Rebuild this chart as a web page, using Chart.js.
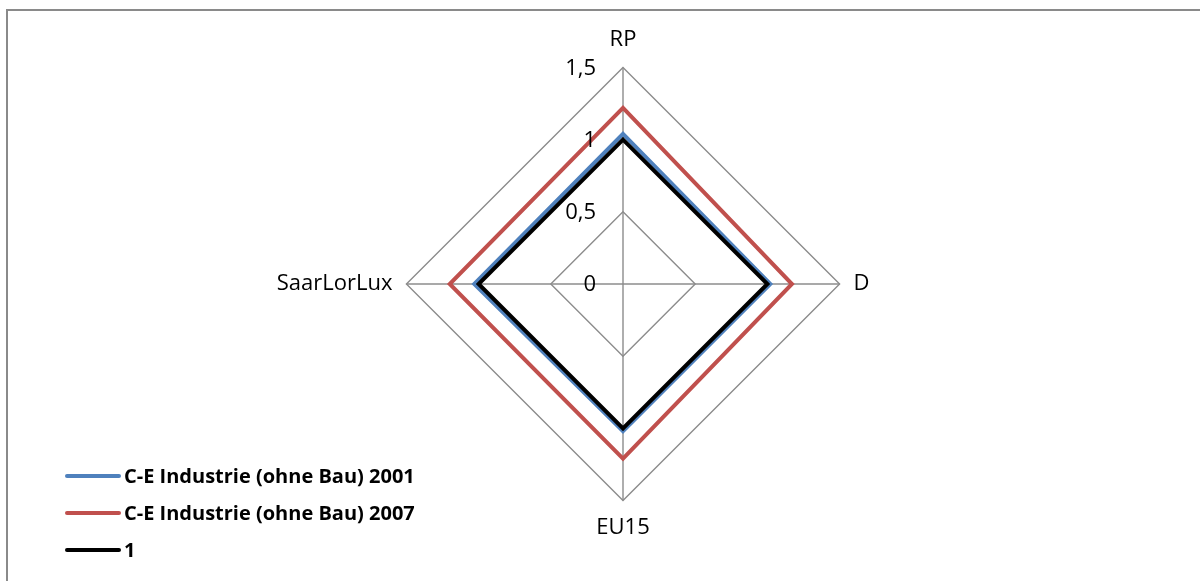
<!DOCTYPE html>
<html>
<head>
<meta charset="utf-8">
<script src="https://cdn.jsdelivr.net/npm/chart.js@4/dist/chart.umd.min.js"></script>
<style>
  html, body { margin: 0; padding: 0; background: #fff; }
  #wrap { position: relative; width: 1200px; height: 581px; }
</style>
</head>
<body>
<div id="wrap"><canvas id="chart"></canvas></div>
<script>
const AXES = ['RP', 'D', 'EU15', 'SaarLorLux'];
const VALUES_2001 = [1.04, 1.02, 1.02, 1.03];
const VALUES_2007 = [1.22, 1.17, 1.21, 1.20];
const VALUES_ONE = [1, 1, 1, 1];
const TICK_VALUES = [0, 0.5, 1, 1.5];
const TICK_LABELS = ['0', '0,5', '1', '1,5'];
const SERIES_NAMES = ['C-E Industrie (ohne Bau) 2001', 'C-E Industrie (ohne Bau) 2007', '1'];

const FONT = '"Open Sans", "DejaVu Sans", sans-serif';
const GRID = '#8c8c8c';

// outer frame, only left and top edges show in the picture
const framePlugin = {
  id: 'frame',
  beforeDraw(chart) {
    const ctx = chart.ctx;
    ctx.save();
    ctx.strokeStyle = '#8a8a8a';
    ctx.lineWidth = 2;
    ctx.strokeRect(7, 10, 1220, 620);
    ctx.restore();
  },
};

// tick labels sit left of the vertical axis
const tickPlugin = {
  id: 'tickLabels',
  afterDatasetsDraw(chart) {
    const scale = chart.scales.r;
    const ctx = chart.ctx;
    ctx.save();
    ctx.font = `22px ${FONT}`;
    ctx.fillStyle = '#000';
    ctx.textAlign = 'right';
    ctx.textBaseline = 'middle';
    TICK_VALUES.forEach((v, i) => {
      const r = scale.getDistanceFromCenterForValue(v);
      ctx.fillText(TICK_LABELS[i], scale.xCenter - 27, scale.yCenter - r + 1);
    });
    ctx.restore();
  },
};

const legendPlugin = {
  id: 'sideLegend',
  afterDraw(chart) {
    const ctx = chart.ctx;
    ctx.save();
    ctx.font = `bold 20px ${FONT}`;
    ctx.textBaseline = 'middle';
    chart.data.datasets.forEach((ds, i) => {
      const y = 476 + i * 37;
      ctx.strokeStyle = ds.borderColor;
      ctx.lineWidth = 4;
      ctx.lineCap = 'round';
      ctx.beginPath();
      ctx.moveTo(67, y);
      ctx.lineTo(119, y);
      ctx.stroke();
      ctx.fillStyle = '#000';
      ctx.fillText(ds.label, 124, y + 1);
    });
    ctx.restore();
  },
};

function makeSet(label, data, color, order) {
  return {
    label: label,
    data: data,
    borderColor: color,
    backgroundColor: color,
    borderWidth: 4,
    borderJoinStyle: 'miter',
    fill: false,
    pointRadius: 0,
    pointHoverRadius: 0,
    order: order,
  };
}

new Chart(document.getElementById('chart'), {
  type: 'radar',
  data: {
    labels: AXES,
    datasets: [
      makeSet(SERIES_NAMES[0], VALUES_2001, '#4f81bd', 1),
      makeSet(SERIES_NAMES[1], VALUES_2007, '#c0504d', 2),
      makeSet(SERIES_NAMES[2], VALUES_ONE, '#000000', 0),
    ],
  },
  options: {
    responsive: true,
    maintainAspectRatio: false,
    animation: false,
    devicePixelRatio: 1,
    layout: {
      padding: { left: 46, right: 0, top: 27, bottom: 39 },
    },
    scales: {
      r: {
        min: 0,
        max: 1.5,
        ticks: { stepSize: 0.5, display: false },
        grid: { color: GRID, lineWidth: 1.4 },
        angleLines: { color: GRID, lineWidth: 1.4 },
        pointLabels: {
          padding: 14,
          color: '#000',
          font: { family: FONT, size: 22 },
        },
      },
    },
    plugins: {
      legend: { display: false },
      tooltip: { enabled: false },
    },
  },
  plugins: [framePlugin, tickPlugin, legendPlugin],
});
</script>
</body>
</html>
